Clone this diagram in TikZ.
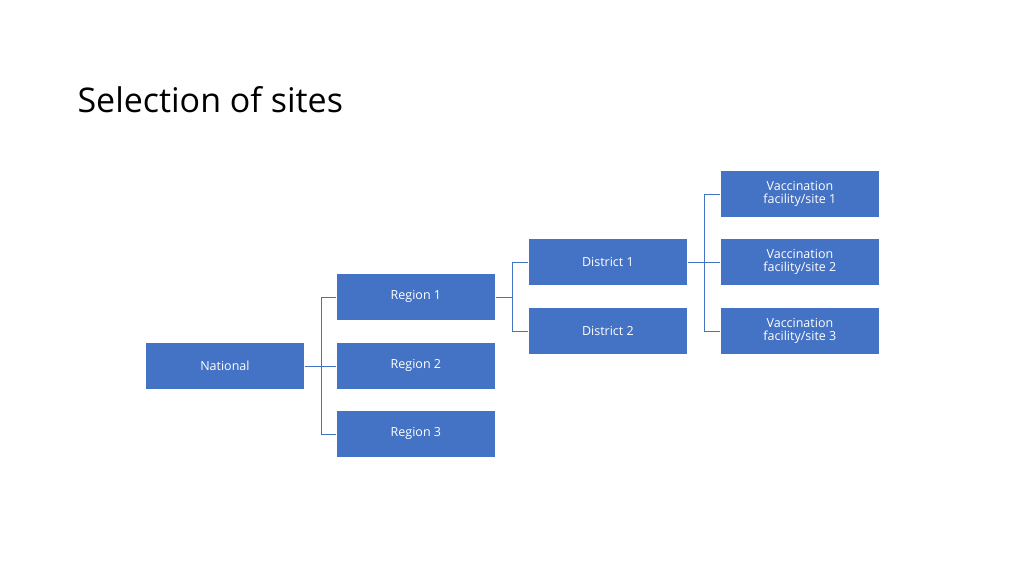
\documentclass[tikz,border=0pt]{standalone}
\usepackage{fontspec}
\setmainfont{Open Sans}
\definecolor{boxblue}{HTML}{4472C4}
\begin{document}
\begin{tikzpicture}[x=1pt,y=-1pt,
  box/.style={fill=boxblue,draw=white,line width=0.8pt,text=white,minimum width=159pt,minimum height=47pt,inner sep=1pt,align=center,font=\fontsize{12.5}{13}\selectfont,anchor=north west},
  conn/.style={draw=boxblue,line width=0.8pt}]
\useasboundingbox (0,0) rectangle (1024,575);
\node[anchor=west,font=\fontsize{34}{40}\selectfont] (title) at (74,100) {Selection of sites};
\node[box] (nat) at (145,342) {National};
\node[box] (r1) at (336,273) {Region 1};
\node[box] (r2) at (336,342) {Region 2};
\node[box] (r3) at (336,410) {Region 3};
\node[box] (d1) at (528,238) {District 1};
\node[box] (d2) at (528,307) {District 2};
\node[box] (v1) at (720,170) {Vaccination\\facility/site 1};
\node[box] (v2) at (720,238) {Vaccination\\facility/site 2};
\node[box] (v3) at (720,307) {Vaccination\\facility/site 3};
\foreach \t in {r1,r2,r3} \draw[conn] (nat.east) -- ++(17,0) |- (\t.west);
\foreach \t in {d1,d2} \draw[conn] (r1.east) -- ++(17,0) |- (\t.west);
\foreach \t in {v1,v2,v3} \draw[conn] (d1.east) -- ++(17,0) |- (\t.west);
\end{tikzpicture}
\end{document}
